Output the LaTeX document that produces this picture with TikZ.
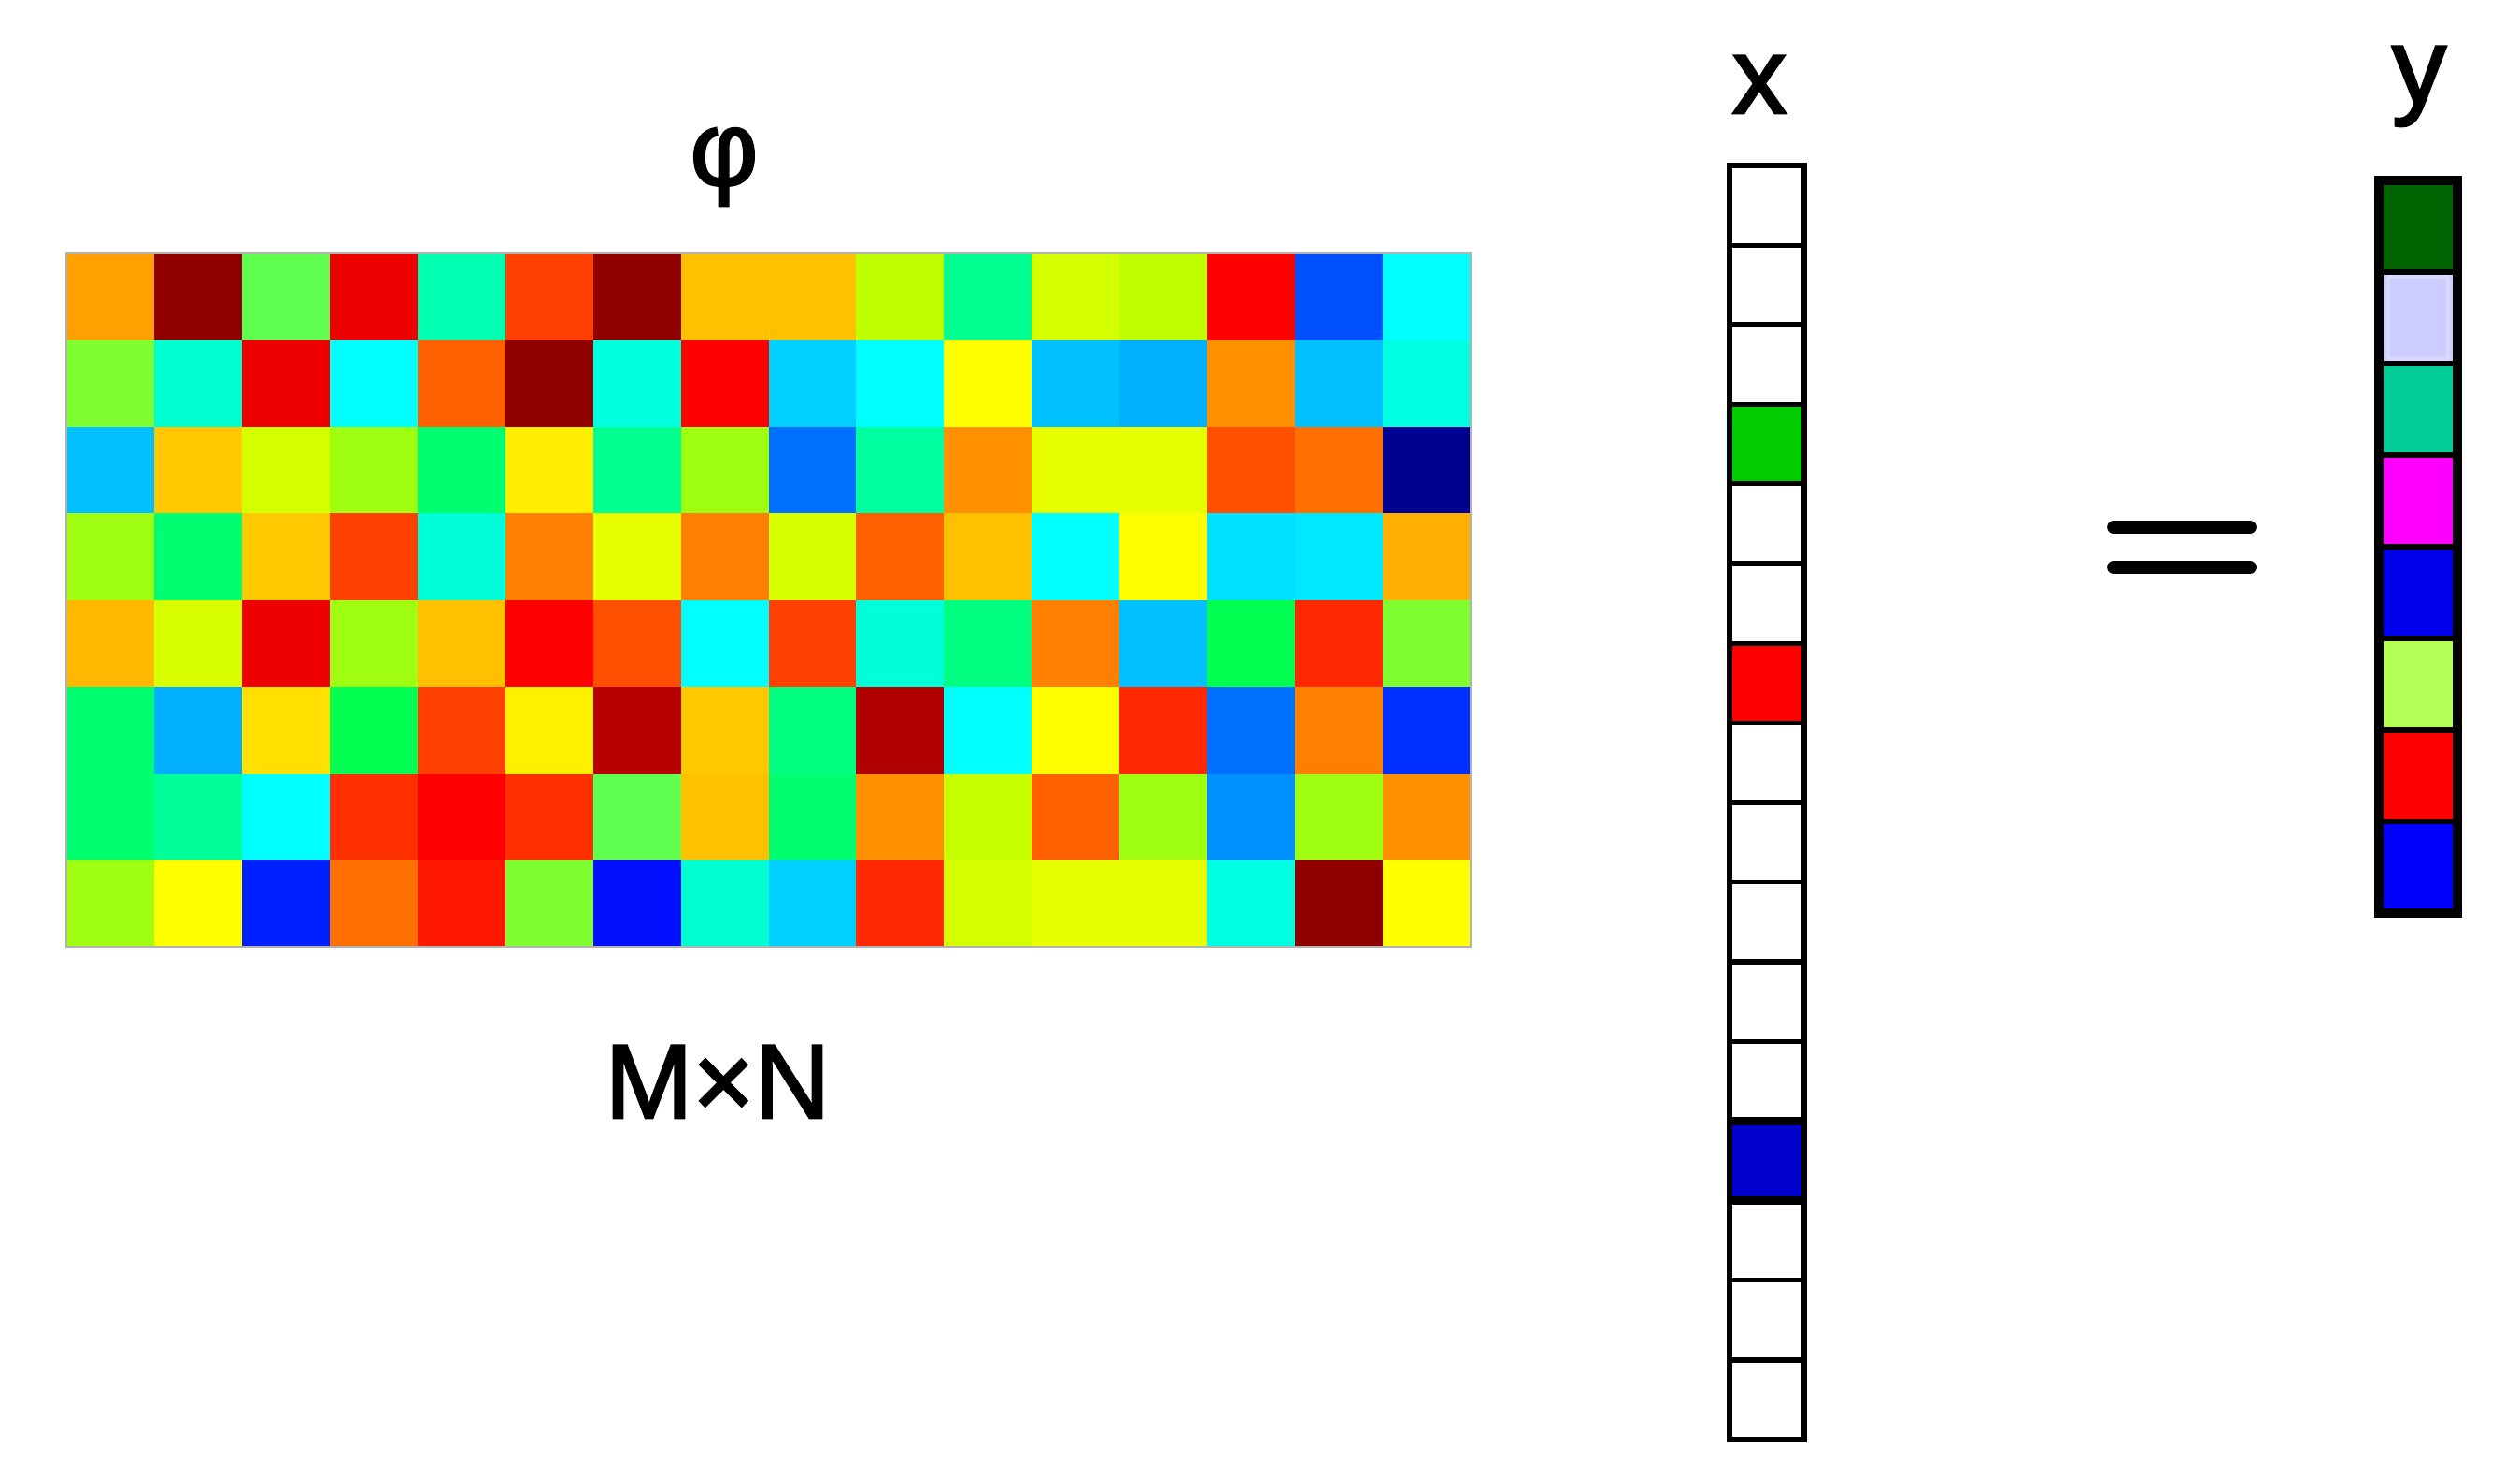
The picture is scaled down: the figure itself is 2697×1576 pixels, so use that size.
\documentclass[tikz,border=0pt]{standalone}
\usepackage{fontspec}
\setmainfont{Liberation Sans}
\newfontfamily\lblfont[FakeBold=2.2]{Liberation Sans}
\tikzset{
  lbl/.style={inner sep=0pt, font=\lblfont\fontsize{32}{36}\selectfont},
  vecline/.style={black, line width=1.5pt},
  eqbar/.style={black, line width=3.9pt, line cap=round}
}
\begin{document}
\begin{tikzpicture}[x=0.01cm,y=-0.01cm]
\useasboundingbox[fill=white] (0,0) rectangle (2697,1576);
% ---------- matrix phi ----------
\def\cw{93.94}\def\ch{92.75}
\foreach \row [count=\r from 0] in {
 {FFA000,900000,60FF50,EE0000,00FFB0,FF4000,900000,FFC000,FFC000,C0FF00,00FF90,D4FF00,C0FF00,FF0000,0050FF,00FFFF},
 {80FF30,00FFD0,EE0000,00FFFF,FF6000,900000,00FFDD,FF0000,00D0FF,00FFFF,FFFF00,00C0FF,00B0FF,FF9000,00C0FF,00FFE0},
 {00C0FF,FFC800,D4FF00,A0FF10,00FF70,FFEE00,00FF90,A0FF10,0070FF,00FFA0,FF9000,E8FF00,E8FF00,FF5000,FF7000,000090},
 {A0FF10,00FF70,FFC800,FF4000,00FFD8,FF8000,E8FF00,FF8000,D8FF00,FF6000,FFC000,00FFFF,FFFF00,00E0FF,00E8FF,FFB000},
 {FFB800,D8FF00,EE0000,A0FF10,FFC000,FF0000,FF5000,00FFFF,FF4000,00FFD8,00FF80,FF8000,00C0FF,00FF50,FF2800,80FF30},
 {00FF70,00B0FF,FFE000,00FF50,FF4000,FFF000,B80000,FFC800,00FF80,B00000,00FFFF,FFFF00,FF2800,0070FF,FF8000,0030FF},
 {00FF70,00FF98,00FFFF,FF3000,FF0000,FF3000,60FF50,FFC000,00FF70,FF9000,C8FF00,FF6000,A0FF10,0090FF,A0FF10,FF9000},
 {A0FF10,FFFF00,0020FF,FF7000,FF1800,80FF30,0010FF,00FFD0,00D0FF,FF2800,D4FF00,E8FF00,E8FF00,00FFE0,900000,FFFF00}}
{
  \foreach \c [count=\k from 0] in \row {
    \definecolor{cc}{HTML}{\c}
    \fill[cc] ({71+\k*\cw},{271+\r*\ch}) rectangle ++(\cw+0.3,\ch+0.3);
  }
}
\draw[gray!60, line width=0.6pt] (71,271) rectangle (1574,1013);
\node[lbl] (phi) at (775,179) {φ};
\node[lbl, anchor=base] (mn) at (768,1196) {M×N};
% ---------- vector x ----------
\def\xh{85.2}
\definecolor{xg}{HTML}{00CC00}
\definecolor{xr}{HTML}{FF0000}
\definecolor{xb}{HTML}{0000CC}
\fill[xg] (1851,{177+3*\xh}) rectangle (1931,{177+4*\xh});
\fill[xr] (1851,{177+6*\xh}) rectangle (1931,{177+7*\xh});
\fill[xb] (1851,{177+12*\xh}) rectangle (1931,{177+13*\xh});
\foreach \k in {1,...,15} {
  \draw[vecline] (1851,{177+\k*\xh}) -- (1931,{177+\k*\xh});
}
\draw[black, line width=2.6pt] (1851,{177+12*\xh}) -- (1931,{177+12*\xh});
\draw[black, line width=2.6pt] (1851,{177+13*\xh}) -- (1931,{177+13*\xh});
\draw[black, line width=1.8pt] (1851,177) rectangle (1931,{177+16*\xh});
\node[lbl, anchor=base, font=\lblfont\fontsize{33}{36}\selectfont] (xl) at (1883,121) {x};
% ---------- equals ----------
\draw[eqbar] (2262,564) -- (2408,564);
\draw[eqbar] (2262,607) -- (2408,607);
% ---------- vector y ----------
\def\yh{98}
\foreach \c [count=\k from 0] in {006400,CCCCFF,00CC99,FF00FF,0000EE,B3FF55,FF0000,0000FF} {
  \definecolor{cy}{HTML}{\c}
  \fill[cy] (2546,{193+\k*\yh}) rectangle (2630,{193+\k*\yh+\yh});
}
\draw[white!85!blue, line width=1.0pt] (2556,{193+\yh+5}) rectangle (2620,{193+2*\yh-5});
\foreach \k in {1,...,7} {
  \draw[black, line width=1.8pt] (2546,{193+\k*\yh}) -- (2630,{193+\k*\yh});
}
\draw[black, line width=2.6pt] (2546,193) rectangle (2630,{193+8*\yh});
\node[lbl, anchor=base, font=\lblfont\fontsize{33}{36}\selectfont] (yl) at (2589,111) {y};
\end{tikzpicture}
\end{document}
